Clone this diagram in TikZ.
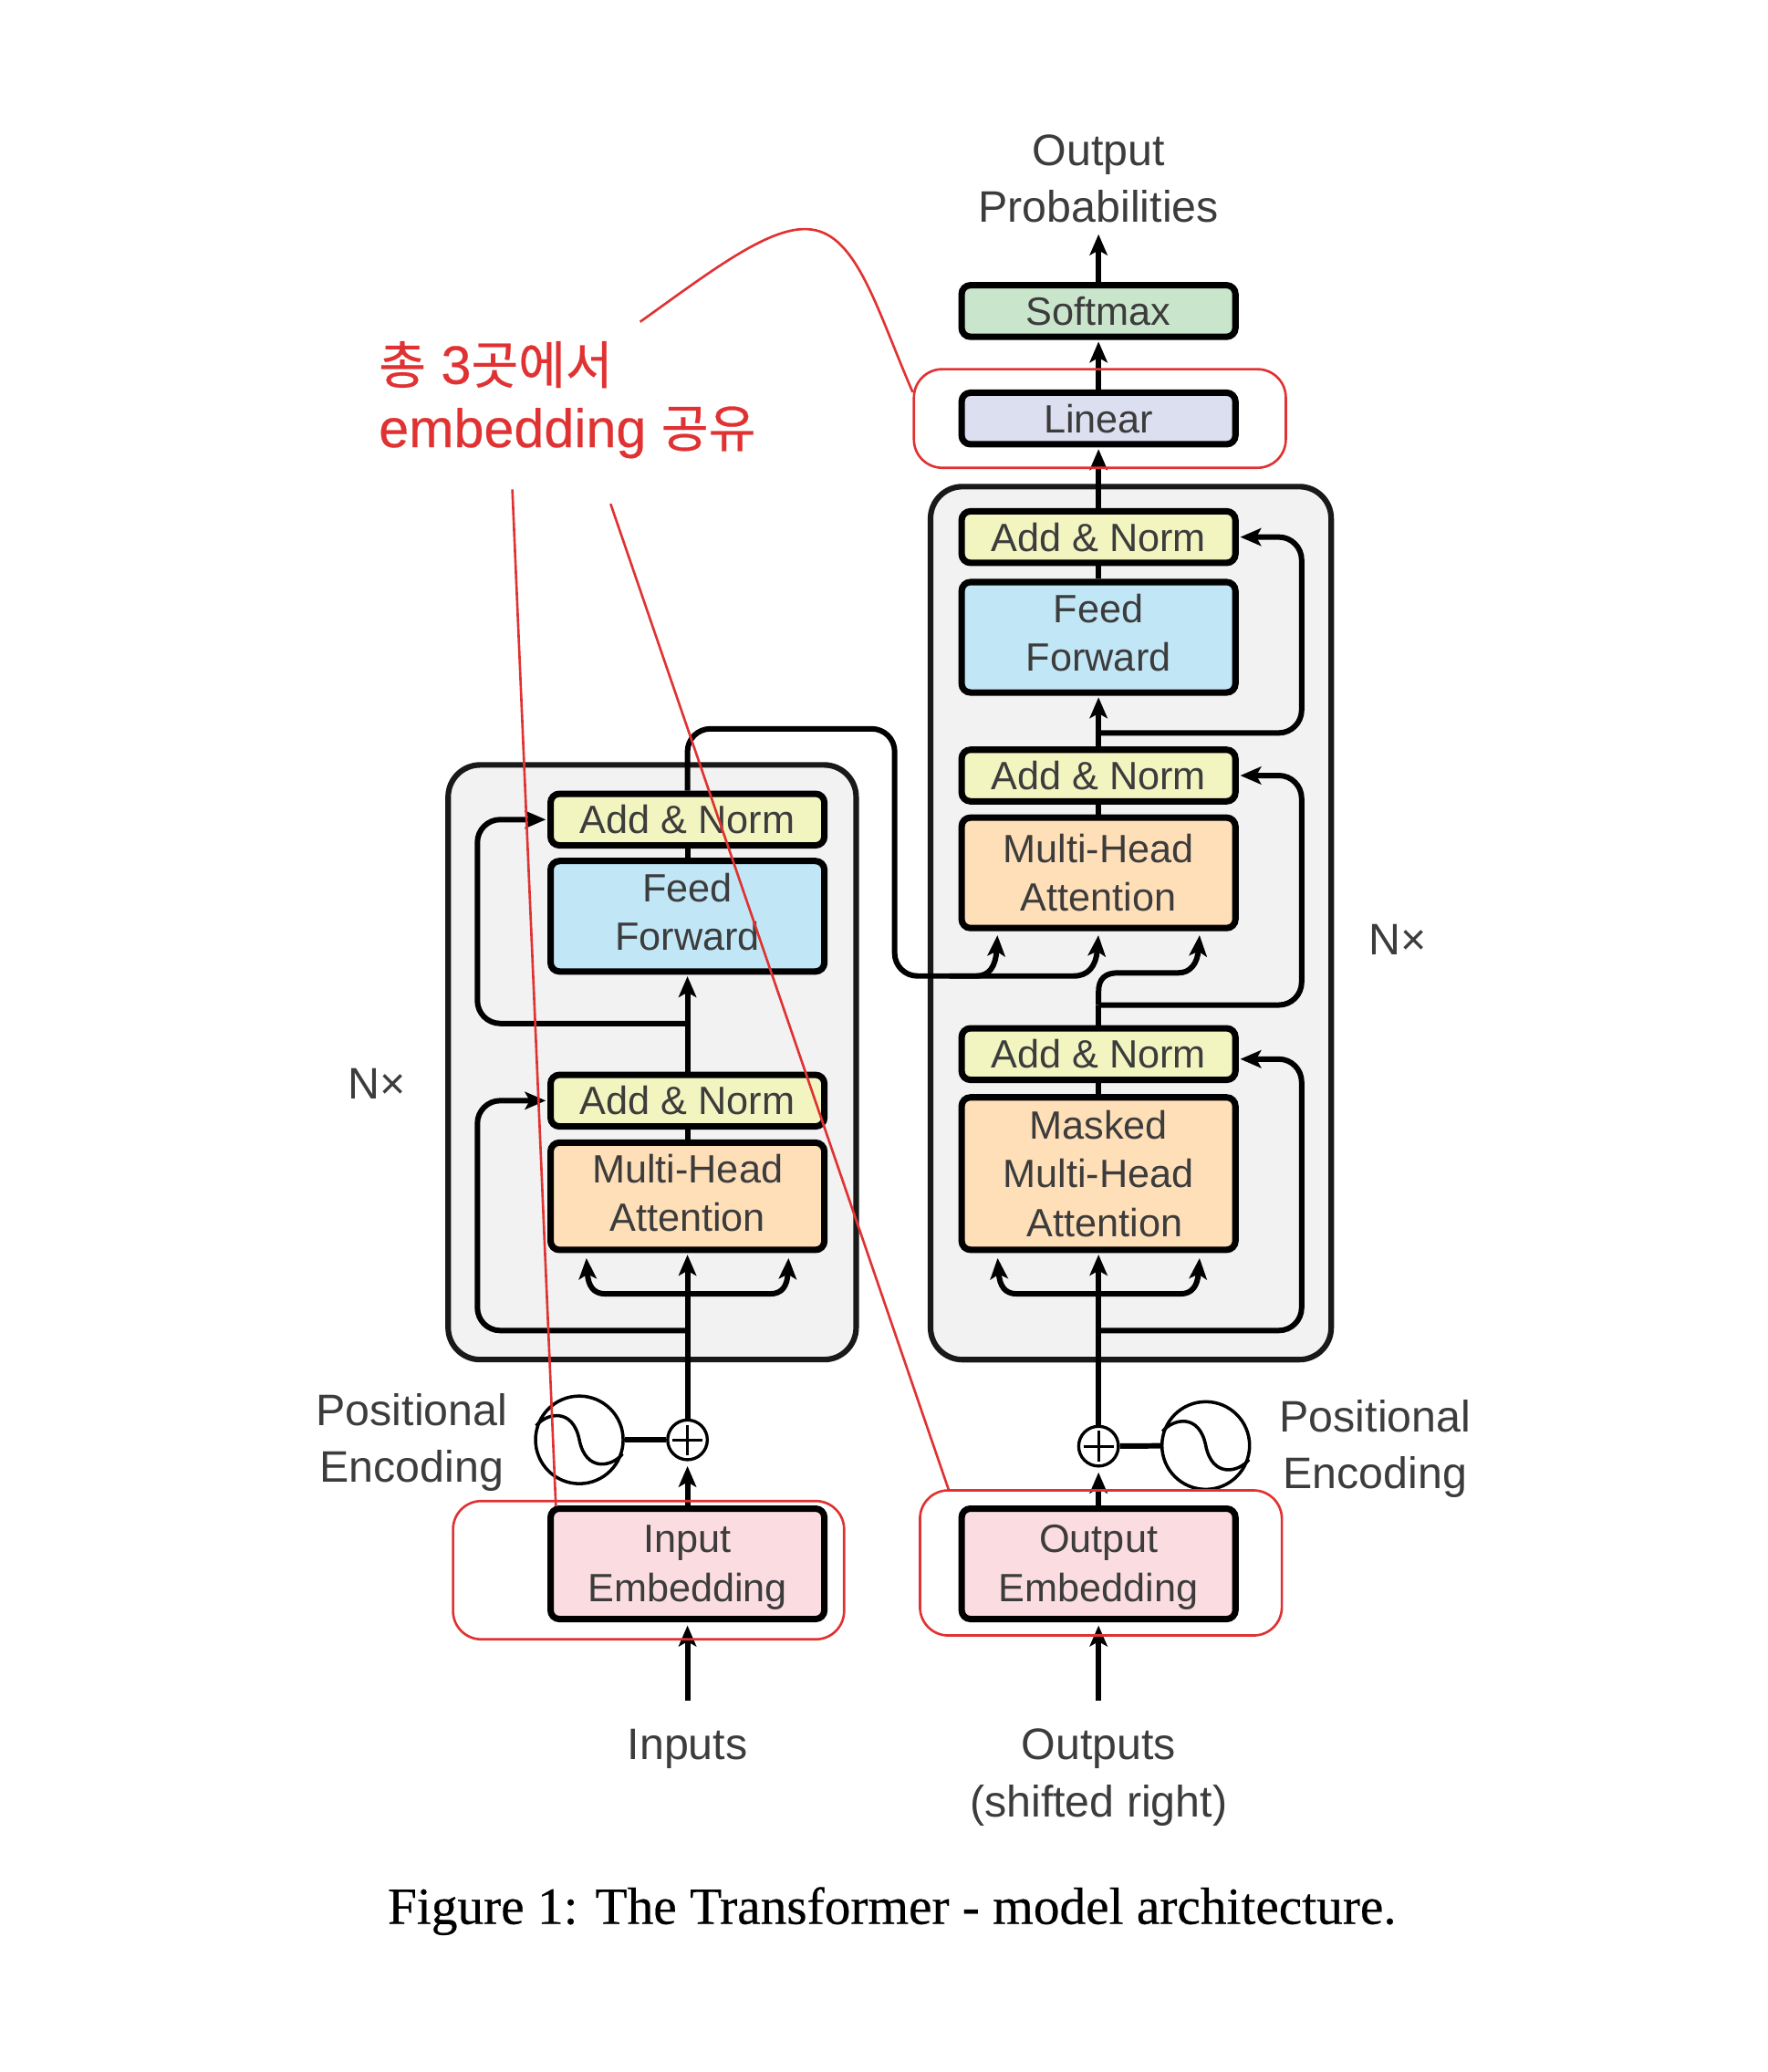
\documentclass[tikz,border=0pt]{standalone}
\usepackage{fontspec}
\usepackage{xcolor}
\usetikzlibrary{arrows.meta}
\setmainfont{Liberation Sans}
\newfontfamily\krfont[FakeBold=0.5,Scale=0.95]{Noto Sans CJK KR}
\newfontfamily\latfont[FakeBold=0.35]{Liberation Sans}
\newfontfamily\capfont[FakeBold=0.4]{Liberation Serif}
\definecolor{softc}{HTML}{C9E5CB}
\definecolor{linc}{HTML}{DCDFF0}
\definecolor{normc}{HTML}{F3F5C0}
\definecolor{feedc}{HTML}{C1E6F6}
\definecolor{headc}{HTML}{FFDFB8}
\definecolor{embc}{HTML}{FBDDE1}
\definecolor{stackc}{HTML}{F2F2F2}
\definecolor{markc}{HTML}{E03232}
\definecolor{inkc}{HTML}{3C3C3C}
\tikzset{
  block/.style={draw=black, fill=#1, line width=4pt, rounded corners=5.5pt, minimum width=6cm,
    align=center, inner sep=0pt, text=inkc, font=\fontsize{24.6}{30.3}\selectfont},
  stack/.style={draw=black!90, fill=stackc, line width=3.5pt, rounded corners=0.7cm, inner sep=0pt},
  link/.style={line width=3.4pt, draw=black},
  flow/.style={link, ->, shorten >=1pt},
  turn/.style={flow, rounded corners=0.5cm},
  lbl/.style={align=center, inner sep=0pt, text=inkc, font=\fontsize{27.5}{35.5}\selectfont},
  wave/.style={draw=black, line width=2pt, circle, minimum size=1.92cm, inner sep=0pt},
  plus/.style={draw=black, line width=1.9pt, circle, fill=white, minimum size=0.87cm, inner sep=0pt},
  redbox/.style={draw=markc, line width=1.5pt, rounded corners=0.62cm, inner sep=0pt},
  redline/.style={draw=markc, line width=1.5pt},
  notetxt/.style={anchor=base west, inner sep=0pt, text=markc, font=\latfont\fontsize{33.7}{40}\selectfont}
}
\begin{document}
\begin{tikzpicture}[x=0.0289cm, y=-0.0289cm, >={Stealth[length=13pt,width=11pt,inset=3pt]}]
  \useasboundingbox (0,0) rectangle (1340,1571);

  % grey stacks
  \node[stack, minimum width=8.94cm, minimum height=13.03cm] (encstack) at (494.5,805.4) {};
  \node[stack, minimum width=8.78cm, minimum height=19.13cm] (decstack) at (857.5,699.9) {};

  % decoder
  \node[block=softc, minimum height=1.13cm] (softmax) at (833,235.8) {Softmax};
  \node[block=linc, minimum height=1.13cm] (linear) at (833,317.3) {Linear};
  \node[block=normc, minimum height=1.13cm] (dnorm3) at (833,407.2) {Add \& Norm};
  \node[block=feedc, minimum height=2.42cm] (dfeed) at (833,483.2) {Feed\\Forward\\[-24.5pt]\mbox{}};
  \node[block=normc, minimum height=1.13cm] (dnorm2) at (833,588) {Add \& Norm};
  \node[block=headc, minimum height=2.42cm] (dhead) at (833,661.8) {Multi-Head\\Attention};
  \node[block=normc, minimum height=1.13cm] (dnorm1) at (833,799.2) {Add \& Norm};
  \node[block=headc, minimum height=3.34cm] (dmask) at (833,889.8) {Masked\\Multi-Head\\\hspace{0.28cm}Attention};
  \node[block=embc, minimum height=2.42cm] (dembed) at (833,1185.7) {\rule{0pt}{21.5pt}Output\\Embedding};

  % encoder
  \node[block=normc, minimum height=1.13cm] (enorm2) at (521.3,621.4) {Add \& Norm};
  \node[block=feedc, minimum height=2.42cm] (efeed) at (521.3,694.7) {Feed\\Forward\\[-24.5pt]\mbox{}};
  \node[block=normc, minimum height=1.13cm] (enorm1) at (521.3,834.5) {Add \& Norm};
  \node[block=headc, minimum height=2.35cm] (ehead) at (521.3,907) {Multi-Head\\Attention\\[-26pt]\mbox{}};
  \node[block=embc, minimum height=2.42cm] (eembed) at (521.3,1185.7) {\rule{0pt}{21.5pt}Input\\Embedding};

  % positional encoding
  \node[plus] (eplus) at (521.3,1091.7) {};
  \node[plus] (dplus) at (833,1096.5) {};
  \node[wave] (ewave) at (439.3,1091.7) {};
  \node[wave] (dwave) at (914.3,1096) {};
  \draw[line width=1.6pt] (eplus.center) ++(-11.5,0) -- ++(23,0) (eplus.center) ++(0,-11.5) -- ++(0,23);
  \draw[line width=1.6pt] (dplus.center) ++(-11.5,0) -- ++(23,0) (dplus.center) ++(0,-11.5) -- ++(0,23);
  \draw[line width=2pt] (ewave.162) .. controls +(7.6,-9.6) and +(-5,-25) .. (ewave.center)
    .. controls +(5,25) and +(-7.6,9.6) .. (ewave.-18);
  \draw[line width=2pt] (dwave.162) .. controls +(7.6,-9.6) and +(-5,-25) .. (dwave.center)
    .. controls +(5,25) and +(-7.6,9.6) .. (dwave.-18);
  \draw[link] (ewave) -- (eplus);
  \draw[link] (dwave) -- (dplus);

  % labels
  \node[lbl] (probs) at (833,135.3) {Output\\Probabilities};
  \node[lbl] (inputs) at (521.3,1326) {Inputs};
  \node[lbl] (outputs) at (833,1347.5) {Outputs\\(shifted right)};
  \node[lbl, anchor=west] (eposlbl) at (239.5,1093.7) {Positional\\Encoding};
  \node[lbl, anchor=west] (dposlbl) at (970,1098.7) {Positional\\Encoding};
  \node[lbl] (enx) at (285.6,821.6) {N×};
  \node[lbl] (dnx) at (1060,712.4) {N×};

  % free ends
  \coordinate (probtip) at (833,176.4);
  \coordinate (intail) at (521.3,1289.5);
  \coordinate (outtail) at (833,1289.5);
  \coordinate (ebranch) at (521.3,981);
  \coordinate (dbranch) at (833,981);
  \coordinate (eres1) at (521.3,1008.8);
  \coordinate (eres2) at (521.3,776);
  \coordinate (dres1) at (833,1008.8);
  \coordinate (dres2) at (833,762);
  \coordinate (dres3) at (833,555.7);
  \coordinate (cross) at (521.3,552.6);
  \coordinate (join) at (720,740);
  \coordinate (dtip) at (987,803);

  % decoder flow
  \draw[flow] (softmax) -- (probtip);
  \draw[flow] (linear) -- (softmax);
  \draw[flow] (dnorm3) -- (linear);
  \draw[link] (dfeed) -- (dnorm3);
  \draw[flow] (dnorm2) -- (dfeed);
  \draw[link] (dhead) -- (dnorm2);
  \draw[link] (dmask) -- (dnorm1);
  \draw[link] (dnorm1) -- (dres2);
  \draw[flow] (dplus) -- (dmask);
  \draw[flow, shorten >=3pt] (dembed) -- (dplus);
  \draw[flow, shorten >=2pt] (outtail) -- (dembed);
  \draw[turn] (dres3) -| (987,407.2) -- (dnorm3.east);
  \draw[turn] (dres2) -| (987,588) -- (dnorm2.east);
  \draw[turn] (dres1) -| (dtip) -- (dnorm1.east |- dtip);
  \draw[flow] (dres2) -- (833,752) .. controls (833,742) and (838,737.6) .. (848,737.6)
    -- (893.6,737.6) .. controls (903,737.6) and (908,730) .. (909.7,707.9);
  \draw[flow] (dbranch) -- (771,981) .. controls (762,981) and (758,975) .. (756.4,952.7);
  \draw[flow] (dbranch) -- (895,981) .. controls (904,981) and (908,975) .. (909.7,952.7);

  % encoder flow
  \draw[link] (ehead) -- (enorm1);
  \draw[flow] (enorm1) -- (efeed);
  \draw[link] (efeed) -- (enorm2);
  \draw[flow] (eplus) -- (ehead);
  \draw[flow, shorten >=3pt] (eembed) -- (eplus);
  \draw[flow, shorten >=2pt] (intail) -- (eembed);
  \draw[turn] (eres1) -| (362,834.5) -- (enorm1.west);
  \draw[turn] (eres2) -| (362,621.4) -- (enorm2.west);
  \draw[flow] (ebranch) -- (459,981) .. controls (450,981) and (446,975) .. (444.6,952.7);
  \draw[flow] (ebranch) -- (584,981) .. controls (593,981) and (597,975) .. (598,952.7);

  % encoder to decoder
  \draw[link, rounded corners=0.5cm] (enorm2) -- (cross) -| (678.4,740) -- (join);
  \draw[flow] (join) -- (740.2,740) .. controls (750,740) and (755,733) .. (756.4,707.9);
  \draw[flow] (join) -- (814,740) .. controls (825,740) and (831,733) .. (833,707.9);

  % red marks
  \node[redbox, minimum width=8.15cm, minimum height=2.16cm] (marklin) at (834,317.3) {};
  \node[redbox, minimum width=8.57cm, minimum height=3.03cm] (markin) at (491.8,1190.5) {};
  \node[redbox, minimum width=7.93cm, minimum height=3.18cm] (markout) at (834.8,1185) {};
  \node[notetxt] (noteone) at (287,291) {{\krfont 총} 3{\krfont 곳에서}};
  \node[notetxt] (notetwo) at (287,339) {embedding {\krfont 공유}};
  \coordinate (notea) at (485.4,244);
  \coordinate (noteb) at (388.5,371);
  \coordinate (notec) at (463,382);
  \coordinate (noteinfoot) at (421.5,1142);
  \coordinate (noteoutfoot) at (719.5,1130);
  \draw[redline] (notea) .. controls (540,205) and (585,170) .. (615,174)
    .. controls (650,178) and (665,235) .. (marklin.172);
  \draw[redline] (noteb) -- (noteinfoot);
  \draw[redline] (notec) -- (noteoutfoot);

  % caption
  \node[inner sep=0pt, text=black, font=\capfont\fontsize{32.6}{36}\selectfont] (caption) at (676.4,1449) {Figure 1: The Transformer - model architecture.};
\end{tikzpicture}
\end{document}
